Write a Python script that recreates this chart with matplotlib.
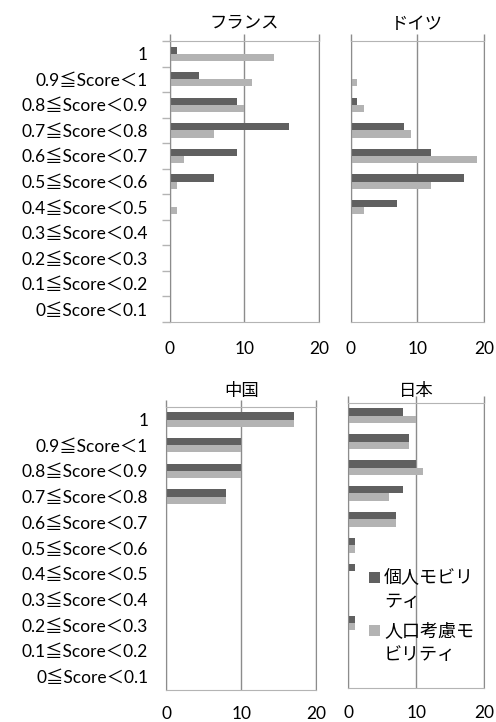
import numpy as np
import matplotlib.pyplot as plt
from matplotlib.patches import Rectangle

plt.rcParams['font.family'] = ['Lato', 'Noto Sans CJK JP']

categories = ['1', '0.9≦Score＜1', '0.8≦Score＜0.9', '0.7≦Score＜0.8',
              '0.6≦Score＜0.7', '0.5≦Score＜0.6', '0.4≦Score＜0.5',
              '0.3≦Score＜0.4', '0.2≦Score＜0.3', '0.1≦Score＜0.2',
              '0≦Score＜0.1']

france_personal = [1, 4, 9, 16, 9, 6, 0, 0, 0, 0, 0]
france_population = [14, 11, 10, 6, 2, 1, 1, 0, 0, 0, 0]
germany_personal = [0, 0, 1, 8, 12, 17, 7, 0, 0, 0, 0]
germany_population = [0, 1, 2, 9, 19, 12, 2, 0, 0, 0, 0]
china_personal = [17, 10, 10, 8, 0, 0, 0, 0, 0, 0, 0]
china_population = [17, 10, 10, 8, 0, 0, 0, 0, 0, 0, 0]
japan_personal = [8, 9, 10, 8, 7, 1, 1, 0, 1, 0, 0]
japan_population = [10, 9, 11, 6, 7, 1, 0, 0, 1, 0, 0]

series_names = ['個人モビリ\nティ', '人口考慮モ\nビリティ']
x_ticks = [0, 10, 20]

DARK = '#606060'
LIGHT = '#b3b3b3'
GRID = '#8c8c8c'
FRAME = '#b4b4b4'

W, H = 496, 722


def rect_px(left, top, right, bottom):
    return [left / W, 1 - bottom / H, (right - left) / W, (bottom - top) / H]


# title, series, axes rect, category labels pad (None = hidden), title y, x label pad
panels = [
    ('フランス', france_personal, france_population, rect_px(169.5, 41, 319, 322), 15.5, 22.5, 9),
    ('ドイツ', germany_personal, germany_population, rect_px(350.7, 41, 484, 322), None, 24, 9),
    ('中国', china_personal, china_population, rect_px(166.3, 406.7, 316.3, 689.5), 13, 391, 7),
    ('日本', japan_personal, japan_population, rect_px(348.3, 402.7, 484, 688), None, 391, 7),
]

fig = plt.figure(figsize=(W / 100, H / 100), dpi=100)

y = np.arange(len(categories))
bar_h = 0.28
for idx, (title, personal, population, rect, label_pad, title_y, x_pad) in enumerate(panels):
    ax = fig.add_axes(rect)
    ax.barh(y - bar_h / 2, personal, height=bar_h, color=DARK, zorder=2)
    ax.barh(y + bar_h / 2, population, height=bar_h, color=LIGHT, zorder=2)
    ax.set_xlim(0, 20)
    ax.set_ylim(len(categories) - 0.5, -0.5)

    ax.set_xticks(x_ticks)
    ax.set_xticklabels([str(t) for t in x_ticks], fontsize=12.5)
    ax.tick_params(axis='x', bottom=False, top=True, labelbottom=True,
                   labeltop=False, length=5, width=1, color=GRID, pad=x_pad)
    ax.xaxis.grid(True, color=GRID, linewidth=1, zorder=0)
    ax.set_axisbelow(True)

    ax.set_yticks(y)
    if label_pad is not None:
        ax.set_yticklabels(categories, fontsize=12.5)
        ax.tick_params(axis='y', which='major', length=0, pad=label_pad)
    else:
        ax.set_yticklabels([])
        ax.tick_params(axis='y', which='major', length=0)
    if idx == 0:
        ax.set_yticks(np.arange(-0.5, len(categories)), minor=True)
        ax.tick_params(axis='y', which='minor', length=6, color=FRAME, width=1)

    for side in ('top', 'bottom'):
        ax.spines[side].set_color(FRAME)
    ax.spines['left'].set_color(GRID)
    ax.spines['right'].set_color(GRID)

    bbox = ax.get_position()
    fig.text(bbox.x0 + bbox.width / 2, 1 - title_y / H, title,
             ha='center', va='center', fontsize=12.5)

# legend drawn inside the 日本 panel
for (top_px, name, color) in [(572, series_names[0], DARK), (625, series_names[1], LIGHT)]:
    fig.patches.append(Rectangle((369 / W, 1 - (top_px + 10.6) / H), 11 / W, 10.6 / H,
                                 transform=fig.transFigure, facecolor=color,
                                 edgecolor='none'))
    fig.text(384 / W, 1 - (top_px + 17.5) / H, name, ha='left', va='center',
             fontsize=13, linespacing=1.6)

fig.savefig('out.png', dpi=100)
